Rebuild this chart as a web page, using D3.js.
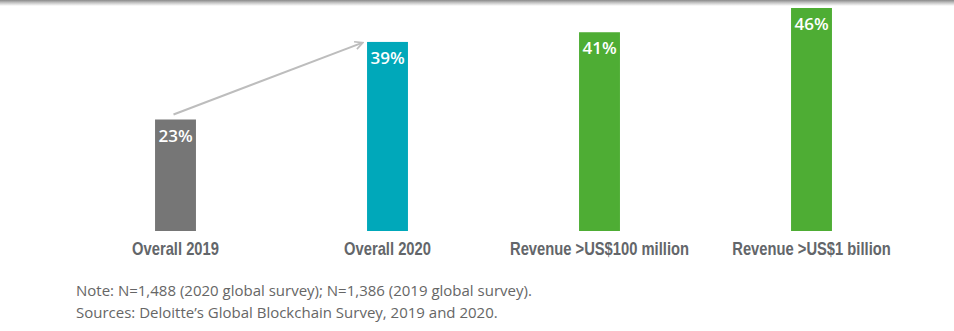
<!DOCTYPE html>
<html>
<head>
<meta charset="utf-8">
<script src="https://cdn.jsdelivr.net/npm/d3@7"></script>
<style>
  body { margin: 0; background: #fff; }
  svg { display: block; }
</style>
</head>
<body>
<div id="root"></div>
<script>
// chart data
const categories = ["Overall 2019", "Overall 2020", "Revenue >US$100 million", "Revenue >US$1 billion"];
const values = [23, 39, 41, 46];
const barColors = ["#767676", "#00a8ba", "#4ead34", "#4ead34"];
const notes = [
  "Note: N=1,488 (2020 global survey); N=1,386 (2019 global survey).",
  "Sources: Deloitte\u2019s Global Blockchain Survey, 2019 and 2020."
];

const width = 954, height = 331;

const svg = d3.select("#root").append("svg")
  .attr("width", width)
  .attr("height", height);

// top shadow line
const defs = svg.append("defs");
const grad = defs.append("linearGradient").attr("id", "topShade")
  .attr("x1", 0).attr("x2", 0).attr("y1", 0).attr("y2", 1);
grad.append("stop").attr("offset", "0%").attr("stop-color", "#8a8a8a");
grad.append("stop").attr("offset", "45%").attr("stop-color", "#c4c4c4");
grad.append("stop").attr("offset", "100%").attr("stop-color", "#ffffff");
svg.append("rect").attr("x", 0).attr("y", 0).attr("width", width).attr("height", 6)
  .attr("fill", "url(#topShade)");

const xScale = d3.scaleBand()
  .domain(categories)
  .range([69.5, 917.5])
  .paddingInner(0.807)
  .paddingOuter(0.4035);

const yScale = d3.scaleLinear()
  .domain([0, 46])
  .range([231, 8]);

// arrow from 2019 to 2020
defs.append("marker")
  .attr("id", "arrowHead")
  .attr("viewBox", "0 0 10 10")
  .attr("refX", 8).attr("refY", 5)
  .attr("markerWidth", 5).attr("markerHeight", 5)
  .attr("orient", "auto")
  .append("path")
  .attr("d", "M1,1 L9,5 L1,9")
  .attr("fill", "none")
  .attr("stroke", "#bdbdbd")
  .attr("stroke-width", 1.6);

svg.append("line")
  .attr("x1", xScale(categories[0]) + xScale.bandwidth() / 2 - 2)
  .attr("y1", yScale(values[0]) - 5)
  .attr("x2", xScale(categories[1]) - 5)
  .attr("y2", yScale(values[1]) + 1)
  .attr("stroke", "#bdbdbd")
  .attr("stroke-width", 2)
  .attr("marker-end", "url(#arrowHead)");

// bars
svg.selectAll(".bar").data(values).enter().append("rect")
  .attr("class", "bar")
  .attr("x", (d, i) => xScale(categories[i]))
  .attr("y", d => yScale(d))
  .attr("width", xScale.bandwidth())
  .attr("height", d => yScale(0) - yScale(d))
  .attr("fill", (d, i) => barColors[i]);

// value labels inside bars
svg.selectAll(".val").data(values).enter().append("text")
  .attr("class", "val")
  .attr("x", (d, i) => xScale(categories[i]) + xScale.bandwidth() / 2)
  .attr("y", d => yScale(d) + 22)
  .attr("text-anchor", "middle")
  .attr("font-family", "'Open Sans', sans-serif")
  .attr("font-size", 17)
  .attr("font-weight", 600)
  .attr("fill", "#ffffff")
  .text(d => d + "%");

// category axis labels (condensed look via horizontal squeeze)
const xAxis = d3.axisBottom(xScale).tickSize(0).tickPadding(0);
const axisG = svg.append("g")
  .attr("transform", `translate(0, ${yScale(0) + 24})`)
  .call(xAxis);
axisG.select(".domain").remove();
axisG.selectAll("text")
  .attr("dy", 0)
  .attr("transform", "scale(0.82,1)")
  .attr("font-family", "'Liberation Sans', Arial, sans-serif")
  .attr("font-weight", "bold")
  .attr("font-size", 18)
  .attr("fill", "#63666a");

// notes
svg.selectAll(".note").data(notes).enter().append("text")
  .attr("class", "note")
  .attr("x", 76)
  .attr("y", (d, i) => 296 + i * 22)
  .attr("font-family", "'Open Sans', sans-serif")
  .attr("font-size", 15)
  .attr("fill", "#666666")
  .text(d => d);
</script>
</body>
</html>
